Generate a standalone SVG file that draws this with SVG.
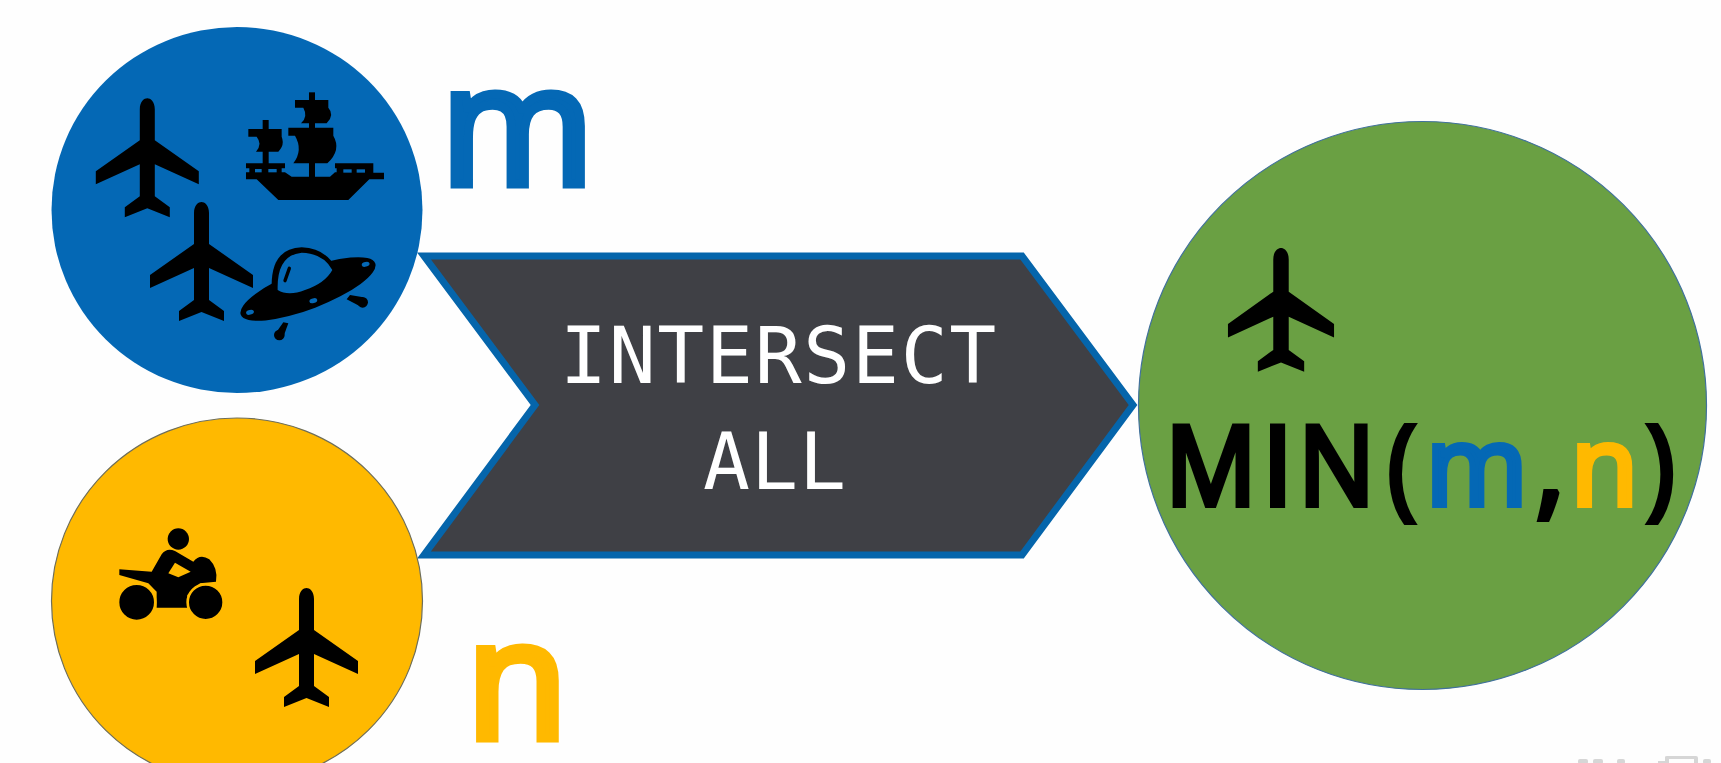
<svg xmlns="http://www.w3.org/2000/svg" width="1721" height="763" viewBox="0 0 1721 763">
<style>
.ic{fill:#000}
.big{font-family:"Open Sans","Noto Sans","Liberation Sans",sans-serif;stroke-linejoin:miter}
.mn{font-size:110px;stroke-width:6px}
.k{fill:#000;stroke:#000}
.mono{font-family:"DejaVu Sans Mono","Liberation Mono",monospace;font-size:78px;fill:#fff;text-anchor:middle}
.bl{fill:#0468b5}
.yl{fill:#ffb900}
</style>
<defs>
<path id="plane" d="M-7.5,11C-7.5,3-3,0,0,0C3,0,7.5,3,7.5,11L7.5,42L51.5,73L51.5,86L7.5,66L7.5,98L22.5,109L22.5,119L0,110L-22.5,119L-22.5,109L-7.5,98L-7.5,66L-51.5,86L-51.5,73L-7.5,42Z"/>
</defs>
<rect width="1721" height="763" fill="#fefefe"/>
<g id="connectors"></g>
<g id="node-intersect">
<path d="M424,256L1022,256L1133,405L1022,555L424,555L535,405Z" fill="#3f4045" stroke="#0565ab" stroke-width="7"/>
<text class="mono" x="779" y="383" letter-spacing="1.7">INTERSECT</text>
<text class="mono" x="775" y="489" letter-spacing="1">ALL</text>
</g>
<g id="node-m">
<ellipse cx="237" cy="210" rx="185.5" ry="183" class="bl"/>
<use href="#plane" transform="translate(147.3,98.3)"/>
<use href="#plane" transform="translate(201.5,202)"/>
<g class="ic" transform="translate(240,85) scale(.3333)">
<rect x="207" y="22" width="18" height="255"/>
<path d="M165,45H265V68Q285,90 260,115H183Q205,95 190,68H165Z"/>
<path d="M145,128H280V152Q305,195 262,235H160Q190,195 165,152H145Z"/>
<rect x="68" y="105" width="18" height="135"/>
<path d="M25,132H125V155Q135,180 115,200H48Q68,178 50,155H25Z"/>
<path d="M18,235H135V250H125V262H135L155,275H270L285,262H290V250H285V235H400V263H432V283H388L325,345H115L50,283H18V262H28V250H18Z"/>
<g class="bl">
<rect x="45" y="252" width="20" height="10"/><rect x="85" y="252" width="25" height="10"/>
<rect x="310" y="253" width="25" height="10"/><rect x="350" y="253" width="25" height="10"/>
</g>
</g>
<g transform="translate(235,240) scale(.3333)">
<g class="ic">
<ellipse cx="219" cy="147" rx="216" ry="60" transform="rotate(-21 219 147)"/>
<path d="M110,135Q110,25 200,22Q270,25 300,80L200,170Z"/>
<circle cx="133" cy="285" r="16"/><path d="M122,280L145,247L160,250L146,288Z"/>
<circle cx="383" cy="187" r="16"/><path d="M335,178L345,165L385,172L378,200Z"/>
</g>
<path class="bl" d="M128,150Q125,45 200,38Q265,40 292,90Q270,130 210,150Q160,170 128,150Z"/>
<path d="M163,85L150,122" stroke="#000" stroke-width="10" stroke-linecap="round" fill="none"/>
<g class="bl">
<ellipse cx="45" cy="217" rx="12" ry="7" transform="rotate(-15 45 217)"/>
<ellipse cx="235" cy="182" rx="12" ry="7" transform="rotate(-15 235 182)"/>
<ellipse cx="392" cy="73" rx="12" ry="7" transform="rotate(-15 392 73)"/>
</g>
</g>
</g>
<text id="label-m" class="big" x="441" y="183.5" font-size="165" fill="#0468b5" stroke="#0468b5" stroke-width="9">m</text>
<g id="node-n">
<ellipse cx="237" cy="601" rx="185.5" ry="183" class="yl" stroke="#6e6e5a" stroke-width="1.2"/>
<use href="#plane" transform="translate(306.5,588)"/>
<g transform="translate(110,520) scale(.3333)">
<circle class="ic" cx="205" cy="57" r="32"/>
<path class="ic" d="M28,148L125,155L155,103Q170,82 195,93L250,125Q270,100 298,118Q325,145 318,185L270,190L232,225V263H140V215L115,190L28,165Z"/>
<path class="yl" d="M195,128L242,155L205,172L175,160Z"/>
<circle class="ic" cx="80" cy="247" r="56" stroke="#ffb900" stroke-width="8"/>
<circle class="ic" cx="287" cy="247" r="54" stroke="#ffb900" stroke-width="8"/>
</g>
</g>
<text id="label-n" class="big" x="466.6" y="737.5" font-size="165" fill="#ffb900" stroke="#ffb900" stroke-width="9">n</text>
<g id="node-min">
<circle cx="1422.5" cy="405.5" r="284" fill="#6aa043" stroke="#41719c" stroke-width="1.2"/>
<use href="#plane" transform="translate(1281,248) scale(1.03,1.04)"/>
<text class="big mn k" transform="translate(1165.4,505) scale(.92,1)">M</text>
<text class="big mn k" x="1262.3" y="505">I</text>
<text class="big mn k" transform="translate(1298.4,505) scale(.92,1)">N</text>
<text class="big mn k" transform="translate(1388,505) scale(.85,1)">(</text>
<text class="big mn" x="1425.7" y="505" fill="#0468b5" stroke="#0468b5">m</text>
<text class="big mn k" x="1536" y="505">,</text>
<text class="big mn" x="1570.7" y="505" fill="#ffb900" stroke="#ffb900">n</text>
<text class="big mn k" transform="translate(1646.8,505) scale(.85,1)">)</text>
</g>
<g fill="#d6d6d6">
<rect x="1578" y="759" width="10" height="5" rx="2"/>
<rect x="1593" y="759" width="10" height="5" rx="2"/>
<rect x="1617" y="759" width="8" height="5" rx="2"/>
<path d="M1658,761H1665V757Q1665,756 1667,756H1696Q1698,756 1698,758V764H1694V759H1669V764H1658Z"/>
<rect x="1703" y="759" width="8" height="5" rx="2"/>
</g>
</svg>
